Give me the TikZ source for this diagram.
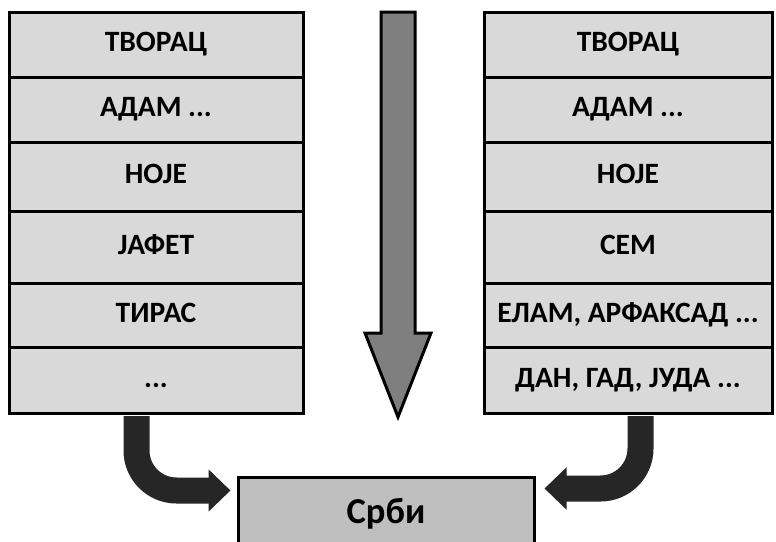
\documentclass[tikz,border=0pt]{standalone}
\usepackage{fontspec}
\setmainfont{Carlito}
\usetikzlibrary{calc, arrows.meta}
\definecolor{cellgray}{HTML}{D9D9D9}
\definecolor{srbigray}{HTML}{BFBFBF}
\definecolor{midgray}{HTML}{7F7F7F}
\definecolor{darkarrow}{HTML}{262626}
\tikzset{
  row/.style={draw, line width=3pt, fill=cellgray, inner sep=0pt, text height=19pt, text depth=5pt, font=\fontsize{29.5}{31}\selectfont\bfseries},
  hookarrow/.style={draw=darkarrow, line width=26pt, rounded corners=40pt, -{Triangle[width=41pt, length=22pt]}}
}

\begin{document}
\begin{tikzpicture}[x=1pt, y=-1pt]
            \useasboundingbox (0,0) rectangle (776,541);
            % left column
            \node[row, minimum width=294pt, minimum height=64.5pt] (l1) at (156,44.75){ТВОРАЦ};
            \node[row, minimum width=294pt, minimum height=65pt] (l2) at (156,109.5){АДАМ ...};
            \node[row, minimum width=294pt, minimum height=69pt] (l3) at (156,176.5){НОЈЕ};
            \node[row, minimum width=294pt, minimum height=72pt] (l4) at (156,247){ЈАФЕТ};
            \node[row, minimum width=294pt, minimum height=64pt] (l5) at (156,315){ТИРАС};
            \node[row, minimum width=294pt, minimum height=66pt] (l6) at (156,380){...};
            % right column
            \node[row, minimum width=288pt, minimum height=64.5pt] (r1) at (628,44.75){ТВОРАЦ};
            \node[row, minimum width=288pt, minimum height=65pt] (r2) at (628,109.5){АДАМ ...};
            \node[row, minimum width=288pt, minimum height=69pt] (r3) at (628,176.5){НОЈЕ};
            \node[row, minimum width=288pt, minimum height=72pt] (r4) at (628,247){СЕМ};
            \node[row, minimum width=288pt, minimum height=64pt] (r5) at (628,315){ЕЛАМ, АРФАКСАД ...};
            \node[row, minimum width=288pt, minimum height=66pt] (r6) at (628,380){ДАН, ГАД, ЈУДА ...};
            % bottom box
            \node[draw, line width=3pt, fill=srbigray, minimum width=296pt, minimum height=74pt, font=\fontsize{36.5}{38}\selectfont\bfseries] (srbi) at (386,514){Срби};
            % time arrow
            \draw[line width=3pt, fill=midgray, line join=miter] (381,12)--(415,12)--(415,333)--(431,333)--(398,417)--(365,333)--(381,333)--cycle;
            % arrows into the bottom box
            \draw[hookarrow] ([xshift=-19.5pt, yshift=-1.5pt]l6.south) |- ([xshift=-6pt, yshift=-15pt]srbi.north west);
            \draw[hookarrow] ([xshift=12.5pt, yshift=-1.5pt]r6.south) |- ([xshift=9pt, yshift=-13pt]srbi.north east);
        \end{tikzpicture}
\end{document}
